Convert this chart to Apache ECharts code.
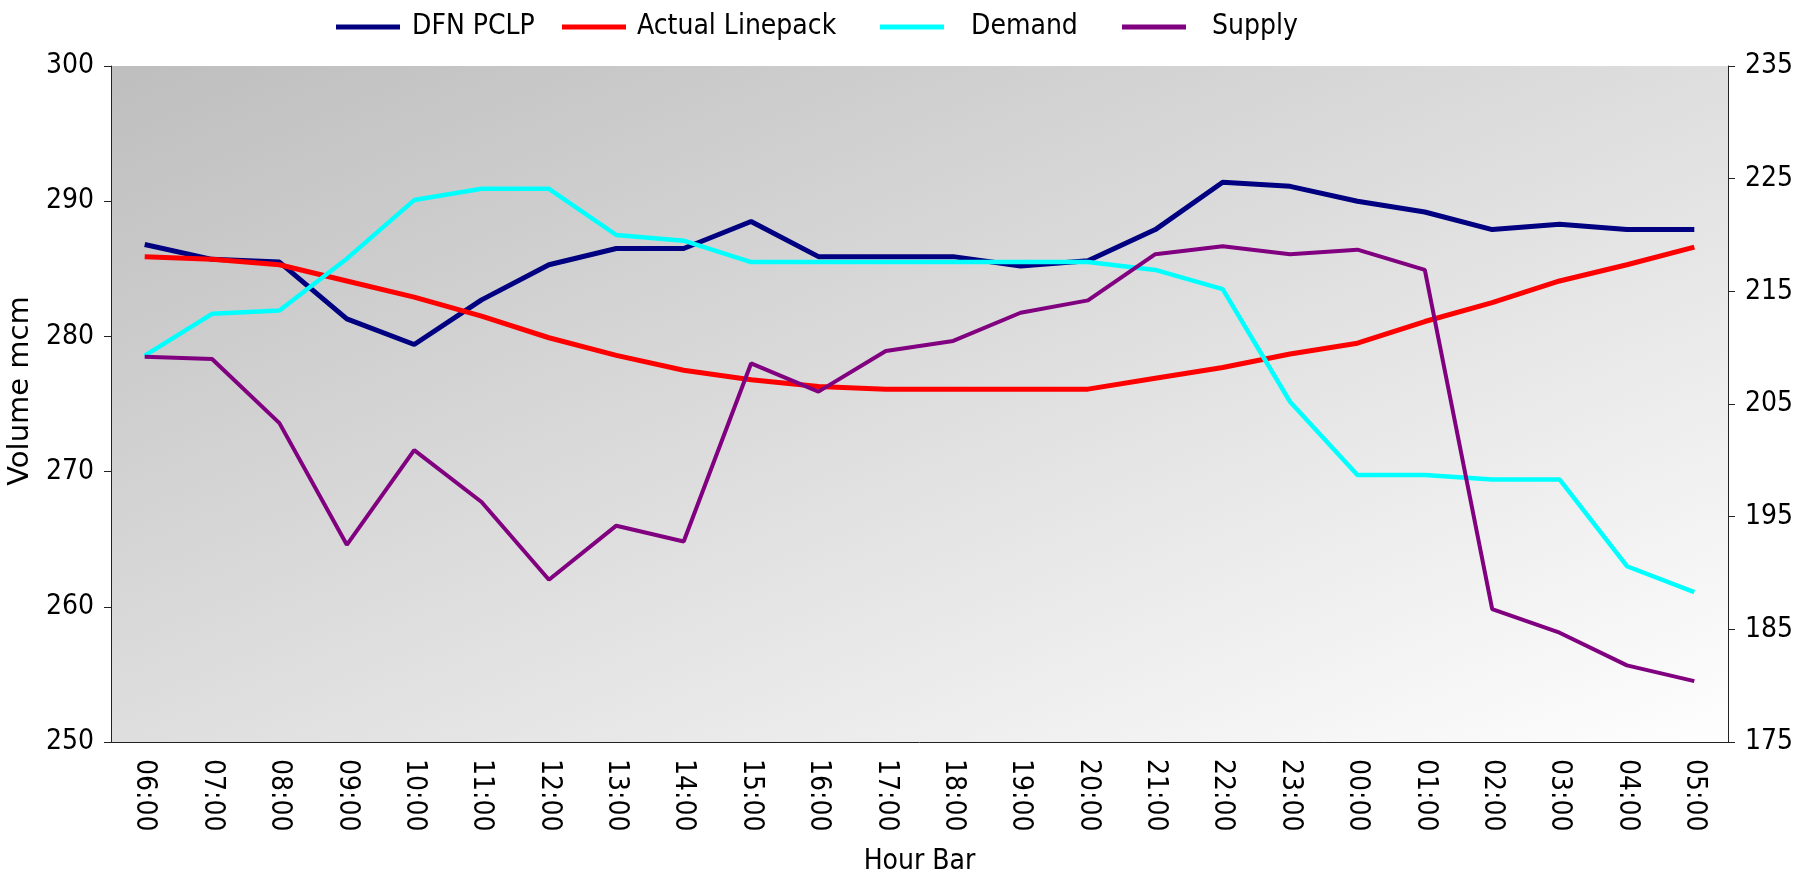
<!DOCTYPE html>
<html>
<head>
<meta charset="utf-8">
<script src="https://cdn.jsdelivr.net/npm/echarts@6/dist/echarts.min.js"></script>
<style>
  body { margin: 0; background: #fff; }
  #chart { width: 1819px; height: 872px; }
</style>
</head>
<body>
<div id="chart"></div>
<script>
var hours = ["06:00", "07:00", "08:00", "09:00", "10:00", "11:00", "12:00", "13:00",
  "14:00", "15:00", "16:00", "17:00", "18:00", "19:00", "20:00", "21:00",
  "22:00", "23:00", "00:00", "01:00", "02:00", "03:00", "04:00", "05:00"];

// left axis (Volume mcm)
var dfnPclp = [286.8, 285.7, 285.5, 281.3, 279.4, 282.7, 285.3, 286.5, 286.5, 288.5, 285.9, 285.9,
  285.9, 285.2, 285.6, 287.9, 291.4, 291.1, 290.0, 289.2, 287.9, 288.3, 287.9, 287.9];
var actualLinepack = [285.9, 285.7, 285.3, 284.1, 282.9, 281.5, 279.9, 278.6, 277.5, 276.8, 276.3, 276.1,
  276.1, 276.1, 276.1, 276.9, 277.7, 278.7, 279.5, 281.1, 282.5, 284.1, 285.3, 286.6];

// right axis
var demand = [209.3, 213.0, 213.3, 217.9, 223.1, 224.1, 224.1, 220.0, 219.5, 217.6, 217.6, 217.6,
  217.6, 217.6, 217.6, 216.9, 215.2, 205.2, 198.7, 198.7, 198.3, 198.3, 190.6, 188.3];
var supply = [209.2, 209.0, 203.3, 192.5, 200.9, 196.3, 189.4, 194.2, 192.8, 208.6, 206.1, 209.7,
  210.6, 213.1, 214.2, 218.3, 219.0, 218.3, 218.7, 216.9, 186.8, 184.7, 181.8, 180.4];

var rightTicks = [175, 185, 195, 205, 215, 225, 235];

var font = "'DejaVu Sans Condensed', 'DejaVu Sans', sans-serif";

function legendAt(name, left, gap) {
  return {
    data: [name],
    left: left,
    top: 8,
    icon: "rect",
    itemWidth: 64,
    itemHeight: 5,
    textStyle: { fontFamily: font, fontSize: 28, color: "#000", padding: [0, 0, 0, gap] }
  };
}

function lineSeries(name, data, color, width, axis) {
  return {
    name: name,
    type: "line",
    yAxisIndex: axis,
    data: data,
    symbol: "none",
    lineStyle: { color: color, width: width },
    itemStyle: { color: color }
  };
}

var myChart = echarts.init(document.getElementById("chart"));
var option = {
  animation: false,
  legend: [
    legendAt("DFN PCLP", 331, 7),
    legendAt("Actual Linepack", 557, 6),
    legendAt("Demand", 875, 22),
    legendAt("Supply", 1117, 21)
  ],
  grid: {
    left: 111,
    right: 91,
    top: 66,
    bottom: 130,
    outerBoundsMode: "none",
    show: true,
    borderWidth: 0,
    // diagonal shading: top-right and bottom-left corners meet mid-way
    backgroundColor: new echarts.graphic.LinearGradient(0, 0, 0.2975, 1.703, [
      { offset: 0, color: "#bebebe" },
      { offset: 1, color: "#fefefe" }
    ])
  },
  xAxis: {
    type: "category",
    data: hours,
    boundaryGap: true,
    name: "Hour Bar",
    nameLocation: "middle",
    nameGap: 106,
    nameTextStyle: { fontFamily: font, fontSize: 28, color: "#000" },
    axisLine: { lineStyle: { color: "#222", width: 1 } },
    axisTick: { alignWithLabel: false, length: 8, lineStyle: { color: "#222" } },
    axisLabel: {
      rotate: -90, margin: 17, interval: 0, padding: [20, 0, 0, 0],
      fontFamily: font, fontSize: 28, color: "#000"
    },
    splitLine: { show: false }
  },
  yAxis: [
    {
      type: "value",
      min: 250,
      max: 300,
      interval: 10,
      name: "Volume mcm",
      nameLocation: "middle",
      nameGap: 58,
      nameRotate: 90,
      nameTextStyle: {
        fontFamily: "'DejaVu Sans', sans-serif", fontSize: 29, color: "#000", padding: [0, 0, 0, 26]
      },
      axisLine: { show: true, lineStyle: { color: "#222", width: 1 } },
      axisTick: { show: true, length: 7, lineStyle: { color: "#222" } },
      axisLabel: { margin: 17, fontFamily: font, fontSize: 28, color: "#000" },
      splitLine: { show: false }
    },
    {
      type: "value",
      min: 175,
      max: 235,
      position: "right",
      axisLine: { show: true, lineStyle: { color: "#222", width: 1 } },
      axisTick: { show: true, length: 7, lineStyle: { color: "#222" }, customValues: rightTicks },
      axisLabel: { margin: 17, fontFamily: font, fontSize: 28, color: "#000", customValues: rightTicks },
      splitLine: { show: false }
    }
  ],
  series: [
    lineSeries("DFN PCLP", dfnPclp, "#000080", 5, 0),
    lineSeries("Actual Linepack", actualLinepack, "#ff0000", 5, 0),
    lineSeries("Demand", demand, "#00ffff", 4.5, 1),
    lineSeries("Supply", supply, "#800080", 4, 1)
  ]
};
myChart.setOption(option);
</script>
</body>
</html>
